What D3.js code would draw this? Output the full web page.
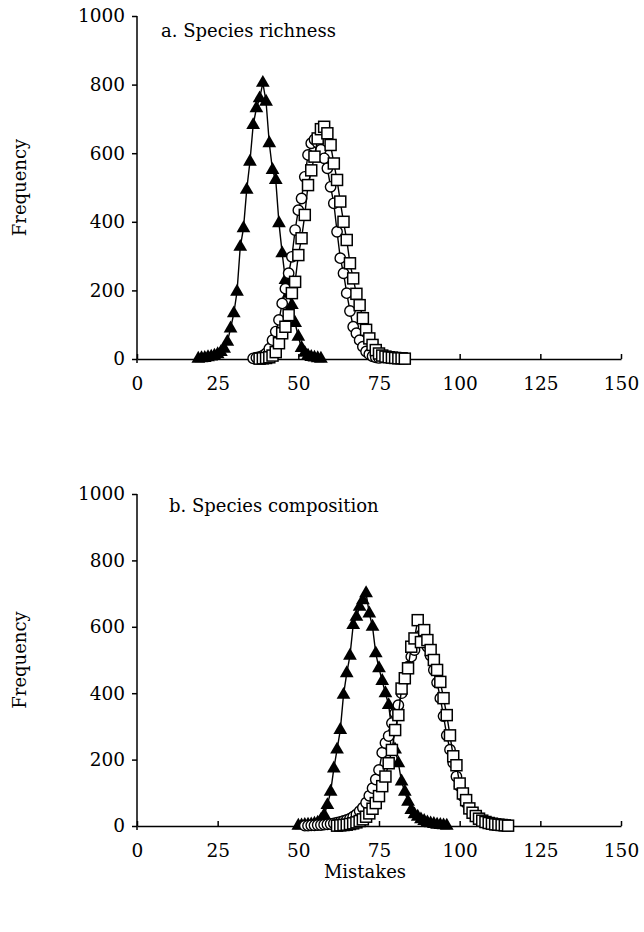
<!DOCTYPE html>
<html>
<head>
<meta charset="utf-8">
<script src="https://cdn.jsdelivr.net/npm/d3@7"></script>
<style>
  body { margin: 0; background: #fff; }
  text { font-family: "DejaVu Serif", serif; fill: #000; }
</style>
</head>
<body>
<script>
// ---- data ----
// panel a: species richness
var aTriX  = [19,20,21,22,23,24,25,26,27,28,29,30,31,32,33,34,35,36,37,38,39,40,41,42,43,44,45,46,47,48,49,50,51,52,53,54,55,56,57];
var aTriY  = [1,2,3,5,7,10,14,20,30,50,89,133,196,327,381,493,575,682,731,760,805,750,629,551,522,396,308,230,190,157,105,65,32,18,10,6,4,2,1];
var aCircX = [36,37,38,39,40,41,42,43,44,45,46,47,48,49,50,51,52,53,54,55,56,57,58,59,60,61,62,63,64,65,66,67,68,69,70,71,72,73,74,75];
var aCircY = [2,4,6,10,16,30,55,80,114,162,205,250,298,376,434,468,531,595,629,640,630,610,585,556,502,454,371,294,250,192,140,94,75,55,36,22,14,8,5,3];
var aSqX   = [38,39,40,41,42,43,44,45,46,47,48,49,50,51,52,53,54,55,56,57,58,59,60,61,62,63,64,65,66,67,68,69,70,71,72,73,74,75,76,77,78,79,80,81,82,83];
var aSqY   = [1,2,3,5,10,20,46,75,94,128,192,225,303,352,420,507,550,590,643,670,677,658,624,570,522,459,400,347,279,235,190,157,119,85,60,41,26,16,10,7,5,4,3,2,2,1];

// panel b: species composition
var bTriX  = [50,51,52,53,54,55,56,57,58,59,60,61,62,63,64,65,66,67,68,69,70,71,72,73,74,75,76,77,78,79,80,81,82,83,84,85,86,87,88,89,90,91,92,93,94,95,96];
var bTriY  = [1,2,3,4,5,7,10,18,33,63,103,173,230,289,395,460,513,605,630,660,680,701,640,600,520,475,437,400,364,285,230,189,134,103,73,48,35,28,20,15,11,8,6,4,3,2,1];
var bCircX = [52,53,54,55,56,57,58,59,60,61,62,63,64,65,66,67,68,69,70,71,72,73,74,75,76,77,78,79,80,81,82,83,84,85,86,87,88,89,90,91,92,93,94,95,96,97,98,99,100,101,102,103,104,105,106,107,108,109,110,111,112,113];
var bCircY = [1,1,2,2,3,3,4,5,6,8,10,12,15,18,22,28,35,45,55,70,91,114,140,169,221,250,271,310,340,364,400,440,480,510,530,560,575,560,540,513,470,432,385,331,273,230,190,149,120,90,70,50,38,27,19,13,9,6,4,3,2,1];
var bSqX   = [62,63,64,65,66,67,68,69,70,71,72,73,74,75,76,77,78,79,80,81,82,83,84,85,86,87,88,89,90,91,92,93,94,95,96,97,98,99,100,101,102,103,104,105,106,107,108,109,110,111,112,113,114,115];
var bSqY   = [1,2,3,4,6,8,11,15,20,28,38,52,69,90,120,149,189,229,289,334,414,445,475,540,565,620,554,590,560,530,500,470,434,385,334,273,210,183,128,98,78,53,40,30,22,16,12,9,7,5,4,3,2,1];

var xTicks = [0,25,50,75,100,125,150];
var yTicks = [0,200,400,600,800,1000];

var w = 644, h = 932;

var svg = d3.select("body").append("svg")
  .attr("width", w)
  .attr("height", h);

var x = d3.scaleLinear().domain([0, 150]).range([137, 621]);

var panels = [
  { title: "a.  Species richness", tx: 161, ty: 37, y0: 359, y1: 16,
    tri: [aTriX, aTriY], circ: [aCircX, aCircY], sq: [aSqX, aSqY] },
  { title: "b.  Species composition", tx: 169, ty: 512, y0: 826, y1: 494,
    tri: [bTriX, bTriY], circ: [bCircX, bCircY], sq: [bSqX, bSqY] }
];

function pairs(s) {
  return s[0].map((d, i) => [d, s[1][i]]);
}

panels.forEach(p => {
  var y = d3.scaleLinear().domain([0, 1000]).range([p.y0, p.y1]);
  var g = svg.append("g");

  // y axis
  var yAxis = d3.axisLeft(y).tickValues(yTicks).tickFormat(d3.format("d"))
    .tickSize(5).tickSizeOuter(0).tickPadding(7);
  var yg = g.append("g")
    .attr("transform", `translate(${x(0)},0)`)
    .call(yAxis);
  yg.select(".domain").remove();
  yg.selectAll("line").attr("stroke", "#000").attr("stroke-width", 1.5);
  yg.selectAll("text").style("font-family", '"DejaVu Serif", serif').style("font-size", "18.5px");
  g.append("line")
    .attr("x1", x(0)).attr("x2", x(0))
    .attr("y1", y(1000)).attr("y2", y(0) + 4)
    .attr("stroke", "#000").attr("stroke-width", 1.5);

  // x axis
  var xAxis = d3.axisBottom(x).tickValues(xTicks).tickSizeInner(-5).tickSizeOuter(0).tickPadding(18);
  var xg = g.append("g")
    .attr("transform", `translate(0,${y(0)})`)
    .call(xAxis);
  xg.select(".domain").attr("stroke-width", 1.5);
  xg.selectAll("line").attr("stroke", "#000").attr("stroke-width", 1.5);
  xg.selectAll("text").style("font-family", '"DejaVu Serif", serif').style("font-size", "18.5px");

  // y label
  g.append("text")
    .attr("transform", `translate(26,${(p.y0 + p.y1) / 2}) rotate(-90)`)
    .attr("text-anchor", "middle")
    .style("font-size", "18px")
    .text("Frequency");

  // panel title
  g.append("text")
    .attr("x", p.tx).attr("y", p.ty)
    .style("font-size", "18px")
    .text(p.title);

  var line = d3.line().x(d => x(d[0])).y(d => y(d[1]));

  // triangles
  var tri = pairs(p.tri);
  g.append("path").datum(tri).attr("d", line)
    .attr("fill", "none").attr("stroke", "#000").attr("stroke-width", 1.4);
  g.selectAll(".tri").data(tri).enter().append("path")
    .attr("class", "tri")
    .attr("transform", d => `translate(${x(d[0])},${y(d[1])})`)
    .attr("d", d3.symbol().type(d3.symbolTriangle).size(82))
    .attr("fill", "#000");

  // circles
  var circ = pairs(p.circ);
  g.append("path").datum(circ).attr("d", line)
    .attr("fill", "none").attr("stroke", "#000").attr("stroke-width", 1.4);
  g.selectAll(".circ").data(circ).enter().append("circle")
    .attr("class", "circ")
    .attr("cx", d => x(d[0])).attr("cy", d => y(d[1]))
    .attr("r", 5.2)
    .attr("fill", "#fff").attr("stroke", "#000").attr("stroke-width", 1.4);

  // squares
  var sq = pairs(p.sq);
  g.append("path").datum(sq).attr("d", line)
    .attr("fill", "none").attr("stroke", "#000").attr("stroke-width", 1.4);
  g.selectAll(".sq").data(sq).enter().append("rect")
    .attr("class", "sq")
    .attr("x", d => x(d[0]) - 5.5).attr("y", d => y(d[1]) - 5.5)
    .attr("width", 11).attr("height", 11)
    .attr("fill", "#fff").attr("stroke", "#000").attr("stroke-width", 1.5);
});

// shared x label
svg.append("text")
  .attr("x", 365).attr("y", 878)
  .attr("text-anchor", "middle")
  .style("font-size", "18px")
  .text("Mistakes");
</script>
</body>
</html>
